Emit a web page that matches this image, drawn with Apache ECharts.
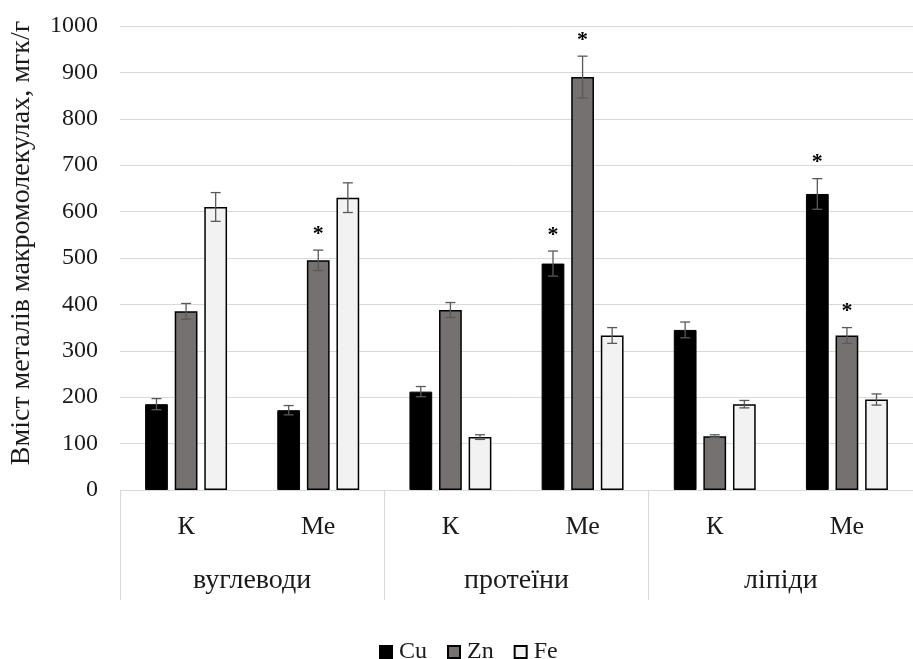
<!DOCTYPE html>
<html>
<head>
<meta charset="utf-8">
<script src="https://cdn.jsdelivr.net/npm/echarts@6/dist/echarts.min.js"></script>
<style>html,body{margin:0;padding:0;background:#fff;}#c{width:913px;height:659px;}</style>
</head>
<body>
<div id="c"></div>
<script>
var subCategories = ['К', 'Ме', 'К', 'Ме', 'К', 'Ме'];
var groups = ['вуглеводи', 'протеїни', 'ліпіди'];
var seriesNames = ['Cu', 'Zn', 'Fe'];
var cuValues = [185, 172, 212, 488, 345, 638];
var znValues = [385, 495, 388, 890, 116, 333];
var feValues = [610, 630, 114, 333, 185, 195];
var cuErrors = [12, 10, 11, 27, 17, 33];
var znErrors = [17, 22, 16, 45, 3, 17];
var feErrors = [31, 32, 5, 17, 8, 12];
var cuStars = [0, 0, 0, 1, 0, 1];
var znStars = [0, 1, 0, 1, 0, 1];
var feStars = [0, 0, 0, 0, 0, 0];
var yTicks = { min: 0, max: 1000, interval: 100 };
var yTitle = 'Вміст металів макромолекулах, мгк/г';

var FONT = 'Liberation Serif';
var TXT = '#1a1a1a';
var CAT_GAP = 0.38, BAR_GAP = 0.3;
var values = [cuValues, znValues, feValues];
var errors = [cuErrors, znErrors, feErrors];
var stars = [cuStars, znStars, feStars];
var styles = [
  { color: '#000000', borderColor: '#000000', borderWidth: 1 },
  { color: '#767171', borderColor: '#000000', borderWidth: 1.5 },
  { color: '#f2f2f2', borderColor: '#000000', borderWidth: 1.5 }
];

var series = [];
seriesNames.forEach(function (name, si) {
  series.push({
    name: name, type: 'bar', xAxisIndex: 0,
    data: values[si], itemStyle: styles[si],
    barGap: (BAR_GAP * 100) + '%', barCategoryGap: (CAT_GAP * 100) + '%',
    z: 2
  });
});
seriesNames.forEach(function (name, si) {
  var d = values[si].map(function (v, i) { return [i, v, errors[si][i], stars[si][i]]; });
  series.push({
    type: 'custom', xAxisIndex: 0, z: 5, silent: true,
    data: d,
    renderItem: function (params, api) {
      var idx = api.value(0), v = api.value(1), e = api.value(2), s = api.value(3);
      var band = api.size([1, 0])[0];
      var inner = band * (1 - CAT_GAP);
      var w = inner / (3 + 2 * BAR_GAP);
      var center = api.coord([idx, v]);
      var x = center[0] - inner / 2 + si * w * (1 + BAR_GAP) + w / 2;
      var top = api.coord([idx, v + e])[1];
      var bot = api.coord([idx, v - e])[1];
      var cap = 5;
      var st = { stroke: '#595959', lineWidth: 1.3 };
      var children = [
        { type: 'line', shape: { x1: x, y1: top, x2: x, y2: bot }, style: st },
        { type: 'line', shape: { x1: x - cap, y1: top, x2: x + cap, y2: top }, style: st },
        { type: 'line', shape: { x1: x - cap, y1: bot, x2: x + cap, y2: bot }, style: st }
      ];
      if (s) {
        children.push({ type: 'text', style: { text: '*', x: x, y: top - 5, align: 'center', verticalAlign: 'bottom', fontFamily: FONT, fontSize: 22, fontWeight: 'bold', fill: '#000' } });
      }
      return { type: 'group', children: children };
    }
  });
});

var chart = echarts.init(document.getElementById('c'));
chart.setOption({
  backgroundColor: '#ffffff',
  animation: false,
  textStyle: { fontFamily: FONT },
  grid: { left: 117, right: -8, top: 26, bottom: 169, containLabel: false },
  legend: {
    data: seriesNames, left: 374, top: 635, itemWidth: 12, itemHeight: 12, itemGap: 20,
    icon: 'rect',
    textStyle: { fontFamily: FONT, fontSize: 24, color: TXT, padding: [0, 0, 0, 2] }
  },
  xAxis: [
    {
      type: 'category', data: subCategories, position: 'bottom',
      axisLine: { show: true, lineStyle: { color: '#d9d9d9', width: 1 } },
      axisTick: { show: false },
      axisLabel: { interval: 0, margin: 24, fontFamily: FONT, fontSize: 26, color: TXT }
    },
    {
      type: 'category', data: groups, position: 'bottom', gridIndex: 0,
      axisLine: { show: false },
      axisTick: { show: true, length: 110, interval: 0, lineStyle: { color: '#d9d9d9' } },
      axisLabel: { interval: 0, margin: 77, fontFamily: FONT, fontSize: 28, color: TXT }
    }
  ],
  yAxis: {
    type: 'value', min: yTicks.min, max: yTicks.max, interval: yTicks.interval,
    name: yTitle, nameLocation: 'middle', nameGap: 84,
    nameTextStyle: { fontFamily: FONT, fontSize: 28, color: TXT, padding: [0, 0, 0, 30] },
    axisLine: { show: false }, axisTick: { show: false },
    axisLabel: { margin: 22, fontFamily: FONT, fontSize: 24, color: TXT, formatter: function (v) { return String(v); } },
    splitLine: { lineStyle: { color: '#d9d9d9', width: 1 } }
  },
  series: series
});
</script>
</body>
</html>
